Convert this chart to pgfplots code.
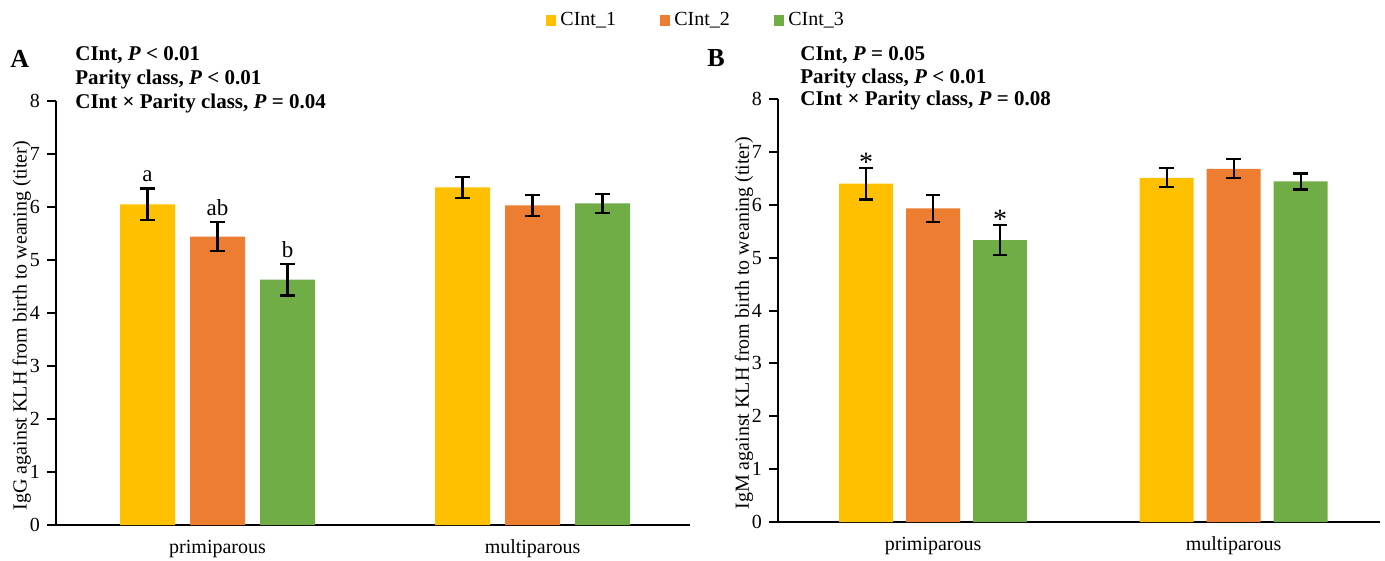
\documentclass[border=0pt]{standalone}
\usepackage{fontspec}
\setmainfont{Liberation Serif}
\usepackage{pgfplots}
\pgfplotsset{compat=1.18}
\usepackage{pgfplotstable}
\definecolor{c1}{HTML}{FFC000}
\definecolor{c2}{HTML}{ED7D31}
\definecolor{c3}{HTML}{70AD47}

% Panel A (IgG)
\pgfplotstableread{
x y err lab
0 6.05 0.30 a
1 6.37 0.20 {}
}\Aone
\pgfplotstableread{
x y err lab
0 5.44 0.27 ab
1 6.03 0.20 {}
}\Atwo
\pgfplotstableread{
x y err lab
0 4.63 0.30 b
1 6.07 0.18 {}
}\Athree
% Panel B (IgM)
\pgfplotstableread{
x y err lab
0 6.40 0.30 *
1 6.51 0.18 {}
}\Bone
\pgfplotstableread{
x y err lab
0 5.93 0.25 {}
1 6.68 0.18 {}
}\Btwo
\pgfplotstableread{
x y err lab
0 5.33 0.28 *
1 6.44 0.15 {}
}\Bthree

\pgfplotsset{
  mybar/.style={
    scale only axis, ymin=0, ymax=8, ytick={0,...,8},
    xtick={0,1}, xticklabels={primiparous,multiparous},
    axis x line=bottom, axis y line=left,
    axis line style={line width=1pt,-},
    x tick style={draw=none},
    y tick style={line width=1pt,black},
    tick align=outside, major tick length=4.5pt,
    tick label style={font=\fontsize{10}{12}\selectfont},
    /pgf/number format/assume math mode=true,
    xticklabel style={yshift=0.5pt},
    label style={font=\fontsize{10}{12}\selectfont},
    error bars/y dir=both, error bars/y explicit,
    error bars/error bar style={line width=1.1pt,black},
    error bars/error mark options={rotate=90,mark size=3.6pt,line width=1.1pt,black},
    point meta=explicit symbolic,
    nodes near coords={\pgfplotspointmeta},
    visualization depends on={\thisrow{err} \as \errval},
  },
}

\begin{document}
\begin{tikzpicture}
\useasboundingbox (0,0) rectangle (692.5pt,-280.5pt);

\begin{axis}[mybar,
  at={(28pt,-262.5pt)}, anchor=south west,
  width=317pt, height=212pt,
  xmin=-0.513, xmax=1.5,
  ybar=7.5pt, bar width=27.5pt,
  ylabel={IgG against KLH from birth to weaning (titer)},
  ylabel style={at={(axis description cs:-0.054,0.47)},anchor=center},
  every node near coord/.append style={anchor=south,inner sep=1pt,yshift={\errval*26.5pt+2pt},font=\fontsize{11.5}{12}\selectfont,text=black},
  legend style={at={(1.011,1.19)},anchor=center,draw=none,fill=none,legend columns=3,
    font=\fontsize{10}{12}\selectfont,
    /tikz/every even column/.append style={column sep=20pt}},
  legend image code/.code={\fill[#1] (0pt,-2.6pt) rectangle (5.2pt,2.6pt);},
]
\addplot[fill=c1,draw=none] table[x=x,y=y,y error=err,meta=lab]{\Aone};
\addlegendentry{CInt\_1}
\addplot[fill=c2,draw=none] table[x=x,y=y,y error=err,meta=lab]{\Atwo};
\addlegendentry{CInt\_2}
\addplot[fill=c3,draw=none] table[x=x,y=y,y error=err,meta=lab]{\Athree};
\addlegendentry{CInt\_3}
\end{axis}

\begin{axis}[mybar,
  at={(389pt,-261pt)}, anchor=south west,
  width=301pt, height=211.5pt,
  xmin=-0.516, xmax=1.487,
  ybar=6.5pt, bar width=27pt,
  ylabel={IgM against KLH from birth to weaning (titer)},
  ylabel style={at={(axis description cs:-0.0565,0.47)},anchor=center},
  every node near coord/.append style={anchor=south,inner sep=0pt,yshift={\errval*26.44pt-2pt},font=\fontsize{14}{14}\selectfont,text=black},
]
\addplot[fill=c1,draw=none] table[x=x,y=y,y error=err,meta=lab]{\Bone};
\addplot[fill=c2,draw=none] table[x=x,y=y,y error=err,meta=lab]{\Btwo};
\addplot[fill=c3,draw=none] table[x=x,y=y,y error=err,meta=lab]{\Bthree};
\end{axis}

% panel letters and statistics
\node[anchor=west,inner sep=0pt,font=\bfseries\fontsize{13}{14}\selectfont] at (5pt,-29.5pt) {A};
\node[anchor=west,inner sep=0pt,font=\bfseries\fontsize{13}{14}\selectfont] at (353.5pt,-29pt) {B};
\begin{scope}[every node/.style={anchor=west,inner sep=0pt,font=\bfseries\fontsize{10.5}{12}\selectfont}]
\node at (37.5pt,-27.5pt) {CInt, \textit{P} < 0.01};
\node at (37.5pt,-39.5pt) {Parity class, \textit{P} < 0.01};
\node at (37.5pt,-51.5pt) {CInt × Parity class, \textit{P} = 0.04};
\node at (400pt,-27.5pt) {CInt, \textit{P} = 0.05};
\node at (400pt,-39pt) {Parity class, \textit{P} < 0.01};
\node at (400pt,-50pt) {CInt × Parity class, \textit{P} = 0.08};
\end{scope}
\end{tikzpicture}
\end{document}
